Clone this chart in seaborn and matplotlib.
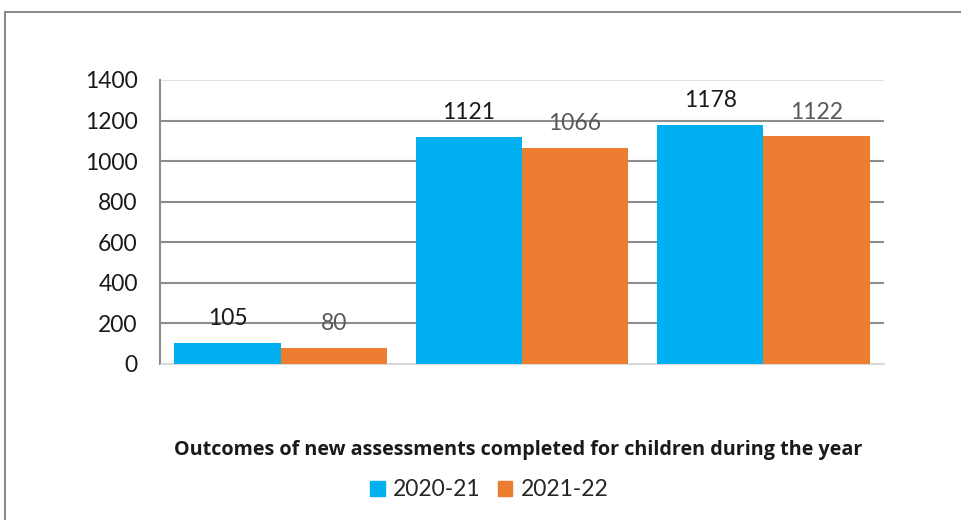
import pandas as pd
import numpy as np
import matplotlib
matplotlib.use("Agg")
import matplotlib.pyplot as plt
import seaborn as sns
from matplotlib.patches import Rectangle

# data
groups = ["Group 1", "Group 2", "Group 3"]
years = ["2020-21", "2021-22"]
values_2020 = [105, 1121, 1178]
values_2021 = [80, 1066, 1122]
yticks = [0, 200, 400, 600, 800, 1000, 1200, 1400]
title = "Outcomes of new assessments completed for children during the year"

df = pd.DataFrame({
    "group": groups * 2,
    "year": [years[0]] * 3 + [years[1]] * 3,
    "value": values_2020 + values_2021,
})

sns.set_style("white")
plt.rcParams["font.family"] = ["Lato", "DejaVu Sans"]

palette = {"2020-21": "#00B0F0", "2021-22": "#ED7D31"}

fig = plt.figure(figsize=(9.61, 5.2), dpi=100)
ax = fig.add_axes([160 / 961, 1 - 364 / 520, 724 / 961, 284 / 520])

sns.barplot(data=df, x="group", y="value", hue="year", palette=palette,
            width=0.88, gap=0, saturation=1, linewidth=0, ax=ax,
            legend=False, zorder=3)

ax.set_ylim(0, 1400)
ax.set_yticks(yticks)
ax.tick_params(axis="y", labelsize=16.5, length=0, pad=16, labelcolor="#1a1a1a")
ax.set_xticks([])
ax.set_xlabel("")
ax.set_ylabel("")

ax.grid(axis="y", color="#8c8c8c", lw=1.5, zorder=0)
ax.set_axisbelow(True)
gl = ax.get_ygridlines()
gl[0].set_color("#d9d9d9")
gl[-1].set_color("#e0e0e0")

for side in ["top", "right"]:
    ax.spines[side].set_visible(False)
ax.spines["bottom"].set_color("#d9d9d9")
ax.spines["left"].set_color("#8c8c8c")
ax.spines["left"].set_linewidth(1.5)

label_colors = ["#1a1a1a", "#595959"]
for cont, col in zip(ax.containers, label_colors):
    ax.bar_label(cont, fmt="%d", padding=10, fontsize=16.5, color=col)

fig.text(518 / 961, 1 - 450 / 520, title, ha="center", va="center",
         fontsize=14.2, fontweight="bold", color="#1a1a1a",
         family=["Open Sans", "DejaVu Sans"])

handles = [Rectangle((0, 0), 1, 1, color=palette[y]) for y in years]
fig.legend(handles, years, loc="center", bbox_to_anchor=(489 / 961, 1 - 490 / 520),
           ncol=2, frameon=False, fontsize=16.5, handlelength=0.65, handleheight=0.65,
           handletextpad=0.35, columnspacing=0.75)

# outer chart border
fig.patches.append(Rectangle((5 / 961, -0.1), 1.2, 1.1 - 12 / 520,
                             transform=fig.transFigure, fill=False,
                             edgecolor="#8c8c8c", lw=1.5))

fig.savefig("out.png", dpi=100)
